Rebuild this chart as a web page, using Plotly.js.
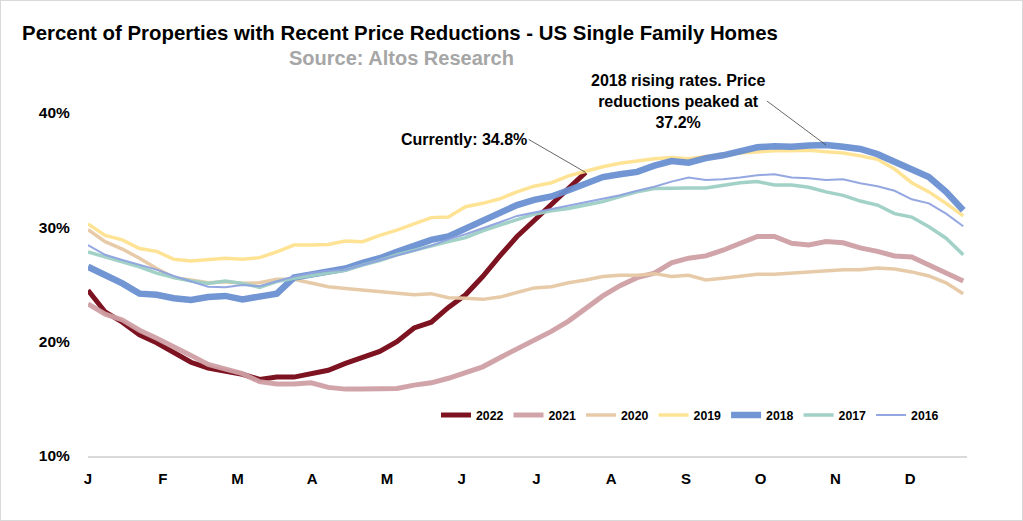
<!DOCTYPE html>
<html>
<head>
<meta charset="utf-8">
<script src="https://cdn.plot.ly/plotly-3.0.1.min.js"></script>
<style>
  html, body { margin: 0; padding: 0; background: #fff; }
  #chart { width: 1023px; height: 521px; }
  #frame { position: absolute; left: 0; top: 0; width: 1023px; height: 521px; box-sizing: border-box; border: 1px solid #d9d9d9; pointer-events: none; }
</style>
</head>
<body>
<div id="chart"></div>
<div id="frame"></div>
<script>
// Month tick labels (weekly data, 52 weeks)
const monthLabels = ["J", "F", "M", "A", "M", "J", "J", "A", "S", "O", "N", "D"];
const yTickVals = [10, 20, 30, 40];
const yTickLabels = ["10%", "20%", "30%", "40%"];
const seriesNames = ["2022", "2021", "2020", "2019", "2018", "2017", "2016"];

// Percent of properties with recent price reductions, by week
const y2022 = [24.5, 22.6, 21.7, 20.6, 19.9, 19.1, 18.2, 17.7, 17.45, 17.15,
  16.7, 16.9, 16.9, 17.2, 17.5, 18.1, 18.6, 19.15, 20.0, 21.2,
  21.7, 23.0, 24.1, 25.7, 27.5, 29.2, 30.6, 32.0, 33.4, 34.8];
const y2021 = [23.3, 22.4, 21.9, 21.0, 20.3, 19.6, 18.8, 18.0, 17.6, 17.2,
  16.5, 16.3, 16.3, 16.4, 16.0, 15.85, 15.85, 15.9, 15.9, 16.2,
  16.4, 16.8, 17.25, 17.8, 18.6, 19.35, 20.15, 20.9, 21.8, 22.9,
  24.0, 24.9, 25.6, 26.0, 26.9, 27.3, 27.5, 28.0, 28.6, 29.2,
  29.2, 28.6, 28.45, 28.75, 28.65, 28.2, 27.9, 27.5, 27.4, 26.7,
  26.1, 25.3];
const y2020 = [29.8, 28.75, 28.1, 27.3, 26.4, 25.6, 25.4, 25.15, 25.25, 25.1,
  25.15, 25.45, 25.45, 25.15, 24.8, 24.65, 24.5, 24.4, 24.2, 24.1,
  24.2, 23.85, 23.8, 23.7, 23.9, 24.3, 24.7, 24.8, 25.15, 25.4,
  25.7, 25.8, 25.8, 25.95, 25.7, 25.8, 25.4, 25.55, 25.7, 25.9,
  25.9, 26.0, 26.1, 26.25, 26.3, 26.3, 26.45, 26.35, 26.1, 25.75,
  25.15, 24.2];
const y2019 = [30.3, 29.3, 28.9, 28.15, 27.9, 27.2, 27.05, 27.2, 27.3, 27.2,
  27.35, 27.85, 28.45, 28.45, 28.5, 28.8, 28.75, 29.3, 29.75, 30.3,
  30.85, 30.9, 31.8, 32.1, 32.5, 33.1, 33.6, 33.9, 34.5, 34.9,
  35.3, 35.6, 35.8, 36.0, 36.1, 36.0, 36.2, 36.3, 36.5, 36.6,
  36.7, 36.7, 36.75, 36.6, 36.5, 36.25, 35.95, 35.1, 33.9, 33.1,
  32.1, 31.0];
const y2018 = [26.55, 25.9, 25.1, 24.2, 24.1, 23.8, 23.65, 23.9, 24.0, 23.7,
  23.95, 24.2, 25.6, 25.9, 26.1, 26.4, 26.9, 27.3, 27.85, 28.45,
  28.9, 29.2, 29.9, 30.55, 31.2, 31.95, 32.4, 32.7, 33.25, 33.85,
  34.4, 34.65, 34.85, 35.4, 35.8, 35.65, 36.05, 36.3, 36.7, 37.0,
  37.1, 37.05, 37.15, 37.2, 37.05, 36.85, 36.4, 35.75, 35.1, 34.4,
  33.1, 31.5];
const y2017 = [27.85, 27.4, 27.0, 26.55, 26.0, 25.6, 25.3, 25.1, 25.3, 25.1,
  24.75, 25.25, 25.55, 25.8, 26.0, 26.25, 26.7, 27.1, 27.6, 28.0,
  28.35, 28.75, 29.1, 29.7, 30.2, 30.7, 31.15, 31.45, 31.65, 31.95,
  32.25, 32.7, 33.1, 33.4, 33.45, 33.45, 33.45, 33.7, 33.9, 34.0,
  33.7, 33.7, 33.5, 33.1, 32.8, 32.3, 31.95, 31.2, 30.9, 30.05,
  29.05, 27.6];
const y2016 = [28.45, 27.6, 27.15, 26.7, 26.3, 25.75, 25.25, 24.8, 24.75, 24.95,
  24.85, 25.25, 25.7, 26.0, 26.2, 26.3, 26.7, 27.1, 27.5, 27.95,
  28.4, 28.95, 29.4, 29.9, 30.45, 31.0, 31.3, 31.6, 31.85, 32.15,
  32.5, 32.8, 33.2, 33.55, 34.0, 34.35, 34.15, 34.2, 34.35, 34.55,
  34.65, 34.35, 34.3, 34.15, 34.2, 33.85, 33.6, 33.2, 32.45, 32.1,
  31.2, 30.1];

const values = [y2022, y2021, y2020, y2019, y2018, y2017, y2016];
const colors = ["#7d1321", "#cf9fa4", "#e6c8a4", "#ffe08a", "#6a8fd1", "#9dcfc4", "#8ea2de"];
const widths = [5, 5, 3.5, 3.5, 6.5, 3.5, 2];
const opac = [1, 0.95, 0.95, 0.9, 0.95, 0.95, 0.95];

const FONT = "Liberation Sans, Arial, sans-serif";

const traces = values.map((ys, k) => ({
  type: "scatter",
  mode: "lines",
  name: seriesNames[k],
  x: ys.map((_, i) => i),
  y: ys,
  line: { color: colors[k], width: widths[k], shape: "linear" },
  opacity: opac[k],
  hoverinfo: "skip"
}));

const weeksPerMonth = 4.355;
const monthTicks = monthLabels.map((_, k) => k * weeksPerMonth);

const curIdx = y2022.length - 1;
const peakVal = Math.max(...y2018);
const peakIdx = y2018.lastIndexOf(peakVal);

const layout = {
  width: 1023,
  height: 521,
  margin: { l: 88, r: 56, t: 113, b: 65 },
  paper_bgcolor: "#ffffff",
  plot_bgcolor: "#ffffff",
  showlegend: true,
  font: { family: FONT, color: "#000000" },
  title: {
    text: "Percent of Properties with Recent Price Reductions - US Single Family Homes",
    font: { family: FONT, size: 20.4, color: "#000000", weight: "bold" },
    xref: "container", x: 400 / 1023, xanchor: "center",
    yref: "container", y: 1 - 33 / 521, yanchor: "middle"
  },
  xaxis: {
    range: [0, 51.22],
    tickmode: "array",
    tickvals: monthTicks,
    ticktext: monthLabels,
    showgrid: false,
    zeroline: false,
    showline: true,
    linecolor: "#d9d9d9",
    linewidth: 1.5,
    ticks: "outside",
    ticklen: 8,
    tickcolor: "rgba(0,0,0,0)",
    tickfont: { family: FONT, size: 15, color: "#000000", weight: "bold" },
    fixedrange: true
  },
  yaxis: {
    range: [10, 40],
    tickmode: "array",
    tickvals: yTickVals,
    ticktext: yTickLabels,
    showgrid: false,
    zeroline: false,
    showline: false,
    ticks: "outside",
    ticklen: 14,
    tickcolor: "rgba(0,0,0,0)",
    tickfont: { family: FONT, size: 15.5, color: "#000000", weight: "bold" },
    fixedrange: true
  },
  legend: {
    orientation: "h",
    x: (436 - 88) / 879,
    xanchor: "left",
    y: (456 - 415) / 343,
    yanchor: "middle",
    bgcolor: "rgba(0,0,0,0)",
    font: { family: FONT, size: 12.3, color: "#000000", weight: "bold" },
    itemwidth: 30,
    traceorder: "normal"
  },
  annotations: [
    {
      xref: "paper", yref: "paper",
      x: (401 - 88) / 879, y: (456 - 58) / 343,
      text: "Source: Altos Research",
      showarrow: false,
      font: { family: FONT, size: 20, color: "#a6a6a6", weight: "bold" },
      xanchor: "center", yanchor: "middle"
    },
    {
      xref: "x", yref: "y",
      x: curIdx, y: y2022[curIdx],
      text: "Currently: 34.8%",
      showarrow: true, arrowhead: 0, arrowwidth: 0.8, arrowcolor: "#404040",
      ax: -57, ay: -33,
      xanchor: "right", yanchor: "middle",
      font: { family: FONT, size: 16, color: "#000000", weight: "bold" }
    },
    {
      xref: "x", yref: "y",
      x: peakIdx, y: peakVal,
      text: "2018 rising rates. Price<br>reductions peaked at<br>37.2%",
      showarrow: true, arrowhead: 0, arrowwidth: 0.8, arrowcolor: "#404040",
      ax: -59, ay: -44,
      xanchor: "right", yanchor: "middle", align: "center",
      font: { family: FONT, size: 16, color: "#000000", weight: "bold" }
    }
  ]
};

Plotly.newPlot("chart", traces, layout, { displayModeBar: false, staticPlot: true });
</script>
</body>
</html>
